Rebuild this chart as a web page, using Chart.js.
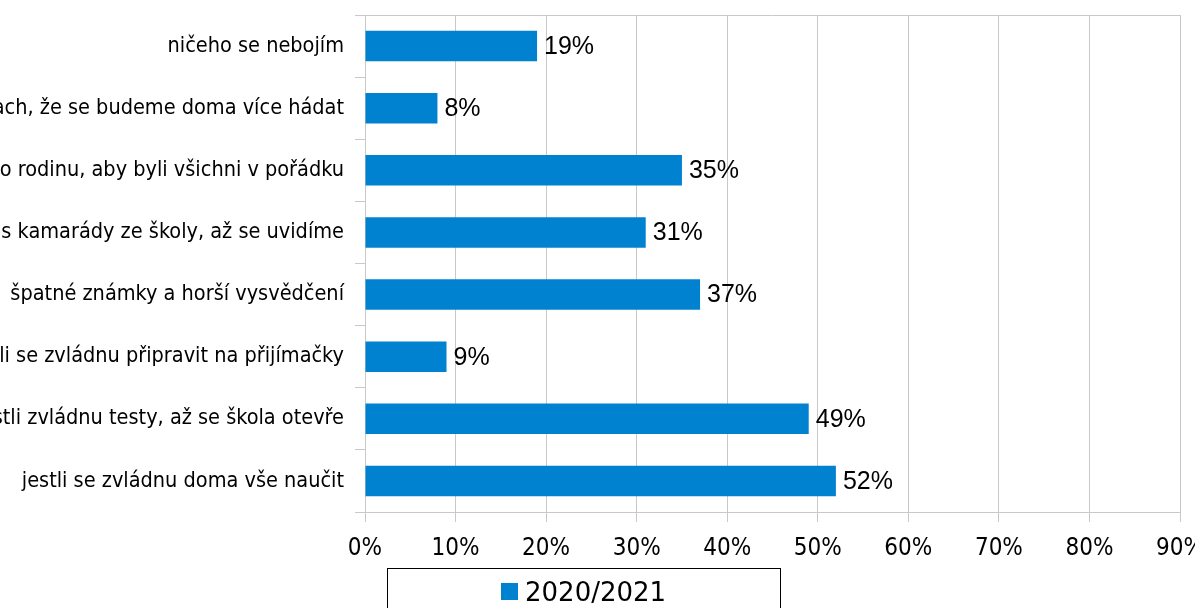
<!DOCTYPE html>
<html>
<head>
<meta charset="utf-8">
<script src="https://cdn.jsdelivr.net/npm/chart.js@4/dist/chart.umd.min.js"></script>
<style>
  html, body { margin: 0; padding: 0; background: #fff; }
  #wrap { width: 1195px; height: 608px; }
</style>
</head>
<body>
<div id="wrap"><canvas id="graf"></canvas></div>
<script>
// kategorie (zleva oříznuté popisky jako v originále)
var kategorie = [
    'ničeho se nebojím',
    'Mám strach, že se budeme doma více hádat',
    'Mám strach o rodinu, aby byli všichni v pořádku',
    'Bojím se, jak to bude s kamarády ze školy, až se uvidíme',
    'špatné známky a horší vysvědčení',
    'Mám obavy, jestli se zvládnu připravit na přijímačky',
    'Mám obavy, jestli zvládnu testy, až se škola otevře',
    'jestli se zvládnu doma vše naučit'
];
var hodnoty2021 = [19, 8, 35, 31, 37, 9, 49, 52];
var nazevRady = '2020/2021';
var osaMax = 90;
var osaKrok = 10;

var modra = '#0082d0';
var seda = '#c9c9c9';
var pismoUzke = "'DejaVu Sans Condensed', sans-serif";

// popisky hodnot za koncem sloupce
var popiskyHodnot = {
    id: 'popiskyHodnot',
    afterDatasetsDraw: function (chart) {
        var ctx = chart.ctx;
        var meta = chart.getDatasetMeta(0);
        ctx.save();
        ctx.font = "25px 'Liberation Sans', Arial, sans-serif";
        ctx.fillStyle = '#000';
        ctx.textAlign = 'left';
        ctx.textBaseline = 'middle';
        meta.data.forEach(function (bar, i) {
            ctx.fillText(chart.data.datasets[0].data[i] + '%', bar.x + 7, bar.y + 1);
        });
        ctx.restore();
    }
};

// horní okraj plochy grafu
var horniOkraj = {
    id: 'horniOkraj',
    beforeDatasetsDraw: function (chart) {
        var a = chart.chartArea;
        var ctx = chart.ctx;
        ctx.save();
        ctx.strokeStyle = seda;
        ctx.lineWidth = 1;
        ctx.beginPath();
        ctx.moveTo(a.left, Math.round(a.top) + 0.5);
        ctx.lineTo(a.right, Math.round(a.top) + 0.5);
        ctx.stroke();
        ctx.restore();
    }
};

// legenda v rámečku dole (rámeček je zespodu oříznutý)
var legendaRamecek = {
    id: 'legendaRamecek',
    afterDraw: function (chart) {
        var ctx = chart.ctx;
        ctx.save();
        ctx.strokeStyle = '#000';
        ctx.lineWidth = 1;
        ctx.strokeRect(387.5, 568.5, 393, 60);
        ctx.fillStyle = modra;
        ctx.fillRect(501, 583, 17, 17);
        ctx.fillStyle = '#000';
        ctx.font = "26px 'DejaVu Sans', sans-serif";
        ctx.textAlign = 'left';
        ctx.textBaseline = 'alphabetic';
        ctx.fillText(nazevRady, 525, 601);
        ctx.restore();
    }
};

var ctx1 = document.getElementById('graf').getContext('2d');
var graf = new Chart(ctx1, {
    type: 'bar',
    data: {
        labels: kategorie,
        datasets: [{
            label: nazevRady,
            data: hodnoty2021,
            backgroundColor: modra,
            borderWidth: 0,
            categoryPercentage: 1,
            barPercentage: 0.49
        }]
    },
    options: {
        indexAxis: 'y',
        responsive: true,
        maintainAspectRatio: false,
        animation: false,
        layout: {
            padding: { top: 15, right: 15, bottom: 0, left: 0 }
        },
        plugins: {
            legend: { display: false },
            tooltip: { enabled: false }
        },
        scales: {
            x: {
                min: 0,
                max: osaMax,
                afterFit: function (scale) {
                    scale.height = 96;
                    scale.paddingLeft = 0;
                    scale.paddingRight = 0;
                },
                ticks: {
                    stepSize: osaKrok,
                    color: '#000',
                    padding: 12,
                    font: { family: pismoUzke, size: 24 },
                    callback: function (v) { return v + '%'; }
                },
                grid: { color: seda, tickLength: 10, lineWidth: 1 },
                border: { color: seda }
            },
            y: {
                afterFit: function (scale) {
                    scale.width = 365;
                    scale.paddingTop = 0;
                    scale.paddingBottom = 0;
                },
                ticks: {
                    color: '#000',
                    padding: 11,
                    font: { family: pismoUzke, size: 21.5 }
                },
                grid: { color: seda, tickLength: 10, drawOnChartArea: false, offset: true },
                border: { color: seda }
            }
        }
    },
    plugins: [popiskyHodnot, horniOkraj, legendaRamecek]
});
</script>
</body>
</html>
